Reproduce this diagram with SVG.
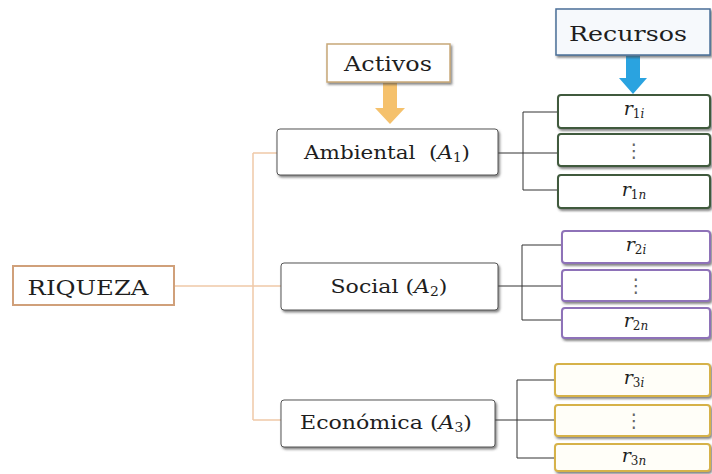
<svg xmlns="http://www.w3.org/2000/svg" width="712" height="474" viewBox="0 0 712 474">
<defs>
<filter id="sh" x="-10%" y="-20%" width="120%" height="150%">
<feDropShadow dx="1.5" dy="2" stdDeviation="1" flood-color="#444" flood-opacity="0.65"/>
</filter>
<style>
text{font-family:"DejaVu Serif","Liberation Serif",serif;fill:#1e1e1e;text-anchor:middle}
.big{font-size:20px}
.mid{font-size:19px}
.r{font-size:19px;font-style:italic}
.sub{font-size:12px;font-style:normal}
.it{font-style:italic}
.dots{font-family:"DejaVu Sans",sans-serif;font-size:19px;fill:#666}
.box{fill:#fff;stroke:#555;stroke-width:1;filter:url(#sh)}
.g{fill:#fff;stroke:#3f5a3c;stroke-width:2;filter:url(#sh)}
.p{fill:#fff;stroke:#8e72b8;stroke-width:2;filter:url(#sh)}
.y{fill:#fffef8;stroke:#d6b24a;stroke-width:2;filter:url(#sh)}
.con{fill:none;stroke:#333;stroke-width:1}
.ocon{fill:none;stroke:#f0c9a8;stroke-width:1.5}
</style>
</defs>

<g id="connectors">
<path class="ocon" d="M174,286 H253 M253,153 V420 M253,153 H277 M253,286 H281 M253,420 H281"/>
<path class="con" d="M498,153 H523 M523,112 V190 M523,112 H558 M523,153 H558 M523,190 H558"/>
<path class="con" d="M498,286 H522 M522,245 V320 M522,245 H562 M522,286 H562 M522,320 H562"/>
<path class="con" d="M495,420 H517 M517,380 V458 M517,380 H555 M517,420 H555 M517,458 H555"/>
<polygon id="arrow-activos" points="383,83 397,83 397,108 405,108 390,124 375,108 383,108" fill="#f5c16c"/>
<polygon id="arrow-recursos" points="626,56 640,56 640,78 647,78 633,94 619,78 626,78" fill="#2aa3e0"/>
</g>

<g id="riqueza">
<rect x="13" y="266" width="161" height="39" fill="#fff" stroke="#d0a07a" stroke-width="2"/>
<text class="big" x="88" y="295" textLength="121" lengthAdjust="spacingAndGlyphs">RIQUEZA</text>
</g>

<g id="activos">
<rect x="327" y="44" width="123" height="38" fill="#fff" stroke="#c8a878" stroke-width="1.5" filter="url(#sh)"/>
<text class="big" x="388" y="71" textLength="88" lengthAdjust="spacingAndGlyphs">Activos</text>
</g>

<g id="recursos">
<rect x="556" y="9" width="154" height="46" fill="#f6f9fc" stroke="#4a6f98" stroke-width="1.5" filter="url(#sh)"/>
<text class="big" x="628" y="41" textLength="118" lengthAdjust="spacingAndGlyphs">Recursos</text>
</g>

<g id="ambiental">
<rect class="box" x="277" y="129" width="221" height="46" rx="3"/>
<text class="mid" x="387" y="159" textLength="166" lengthAdjust="spacingAndGlyphs">Ambiental&#160;&#160;(<tspan class="it">A</tspan><tspan class="sub" dy="3">1</tspan><tspan dy="-3">)</tspan></text>
</g>

<g id="social">
<rect class="box" x="281" y="263" width="217" height="47" rx="3"/>
<text class="mid" x="389" y="293" textLength="117" lengthAdjust="spacingAndGlyphs">Social (<tspan class="it">A</tspan><tspan class="sub" dy="3">2</tspan><tspan dy="-3">)</tspan></text>
</g>

<g id="economica">
<rect class="box" x="281" y="400" width="214" height="47" rx="3"/>
<text class="mid" x="386" y="429" textLength="172" lengthAdjust="spacingAndGlyphs">Económica (<tspan class="it">A</tspan><tspan class="sub" dy="3">3</tspan><tspan dy="-3">)</tspan></text>
</g>

<g id="r1i"><rect class="g" x="558" y="95" width="152" height="33" rx="3"/><text class="r" x="634" y="115">r<tspan class="sub" dy="3">1<tspan class="it">i</tspan></tspan></text></g>
<g id="r1dots"><rect class="g" x="558" y="134" width="152" height="32" rx="3"/><text class="dots" x="634" y="157">⋮</text></g>
<g id="r1n"><rect class="g" x="558" y="175" width="152" height="33" rx="3"/><text class="r" x="634" y="196">r<tspan class="sub" dy="3">1<tspan class="it">n</tspan></tspan></text></g>

<g id="r2i"><rect class="p" x="562" y="231" width="148" height="32" rx="3"/><text class="r" x="636" y="251">r<tspan class="sub" dy="3">2<tspan class="it">i</tspan></tspan></text></g>
<g id="r2dots"><rect class="p" x="562" y="270" width="148" height="31" rx="3"/><text class="dots" x="636" y="292">⋮</text></g>
<g id="r2n"><rect class="p" x="562" y="308" width="148" height="30" rx="3"/><text class="r" x="636" y="327">r<tspan class="sub" dy="3">2<tspan class="it">n</tspan></tspan></text></g>

<g id="r3i"><rect class="y" x="555" y="364" width="155" height="32" rx="3"/><text class="r" x="634" y="384">r<tspan class="sub" dy="3">3<tspan class="it">i</tspan></tspan></text></g>
<g id="r3dots"><rect class="y" x="555" y="405" width="155" height="31" rx="3"/><text class="dots" x="634" y="427">⋮</text></g>
<g id="r3n"><rect class="y" x="555" y="444" width="155" height="27" rx="3"/><text class="r" x="634" y="462">r<tspan class="sub" dy="3">3<tspan class="it">n</tspan></tspan></text></g>
</svg>
